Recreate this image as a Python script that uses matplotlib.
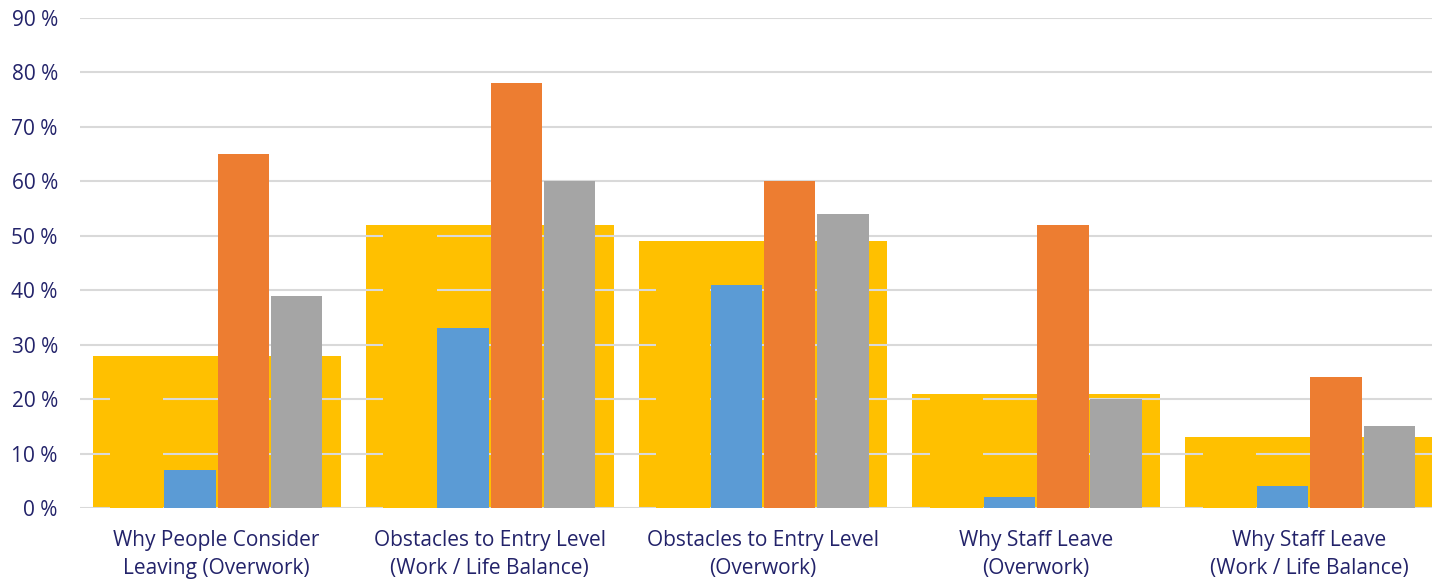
import numpy as np
import matplotlib.pyplot as plt

categories = ["Why People Consider\nLeaving (Overwork)",
              "Obstacles to Entry Level\n(Work / Life Balance)",
              "Obstacles to Entry Level\n(Overwork)",
              "Why Staff Leave\n(Overwork)",
              "Why Staff Leave\n(Work / Life Balance)"]
yellow = [28, 52, 49, 21, 13]
blue = [7, 33, 41, 2, 4]
orange = [65, 78, 60, 52, 24]
gray = [39, 60, 54, 20, 15]

plt.rcParams["font.family"] = ["Open Sans", "DejaVu Sans"]
text_color = "#23236a"

fig = plt.figure(figsize=(14.32, 5.79), dpi=100)
ax = fig.add_axes([80 / 1432, 71 / 579, 1366 / 1432, 490 / 579])

x = np.arange(len(categories))
slot = 0.195
bw = 0.188

# wide background bars
ax.bar(x, yellow, width=0.908, color="#FFC000", zorder=1)
# grid drawn over the wide bars
for v in range(0, 100, 10):
    ax.axhline(v, color="#d9d9d9", lw=1.5, zorder=2)
# hidden first slot hides the grid like the original
ax.bar(x - 1.5 * slot, yellow, width=slot, color="#FFC000", zorder=3)
ax.bar(x - 0.5 * slot, blue, width=bw, color="#5B9BD5", zorder=4)
ax.bar(x + 0.5 * slot, orange, width=bw, color="#ED7D31", zorder=4)
ax.bar(x + 1.5 * slot, gray, width=bw, color="#A5A5A5", zorder=4)

ax.set_xlim(-0.5, 4.5)
ax.set_ylim(0, 90)
ax.set_yticks(range(0, 100, 10))
ax.set_yticklabels([f"{v} %" for v in range(0, 100, 10)])
ax.set_xticks(x)
ax.set_xticklabels(categories, linespacing=1.4)
ax.tick_params(axis="y", length=0, pad=16, labelsize=15, labelcolor=text_color)
ax.tick_params(axis="x", length=0, pad=16, labelsize=15, labelcolor=text_color)
for s in ax.spines.values():
    s.set_visible(False)

fig.savefig("out.png", dpi=100)
